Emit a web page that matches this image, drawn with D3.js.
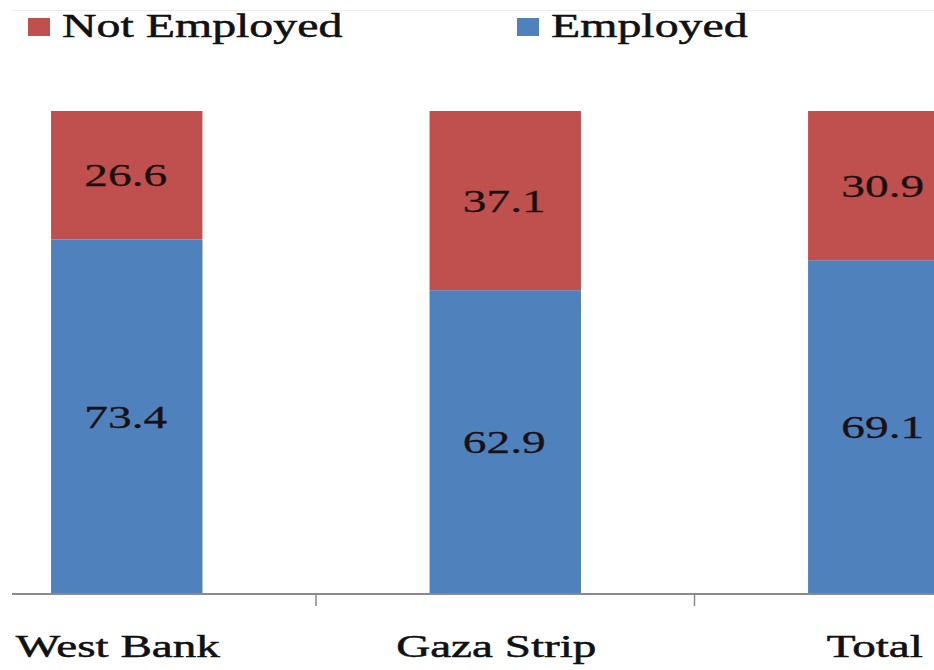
<!DOCTYPE html>
<html>
<head>
<meta charset="utf-8">
<script src="https://cdn.jsdelivr.net/npm/d3@7"></script>
<style>
  html, body { margin: 0; padding: 0; background: #fff; }
  svg { display: block; font-family: 'Liberation Serif', 'Times New Roman', serif; }
  .heavy { stroke: #111; stroke-width: 0.5px; }
</style>
</head>
<body>
<svg id="chart" width="934" height="670"></svg>
<script>
const categories = ['West Bank', 'Gaza Strip', 'Total']
const employed = [73.4, 62.9, 69.1]
const notEmployed = [26.6, 37.1, 30.9]
const seriesNames = ['Not Employed', 'Employed']
const seriesColors = ['#C0504D', '#4F81BD']

const svg = d3.select('#chart')
const stretch = 1.48

const x = d3.scaleBand()
  .domain(categories)
  .range([-62.5, 1073])
  .paddingInner(0.6)
  .paddingOuter(0.3)

const y = d3.scaleLinear()
  .domain([0, 100])
  .range([594, 111])

const rows = categories.map((c, i) => ({ cat: c, employed: employed[i], notEmployed: notEmployed[i] }))
const stack = d3.stack().keys(['employed', 'notEmployed'])(rows)

// faint top border
svg.append('line')
  .attr('x1', 12).attr('x2', 934)
  .attr('y1', 10.5).attr('y2', 10.5)
  .attr('stroke', '#ececec')

// bars
const layers = svg.append('g').selectAll('g')
  .data(stack)
  .join('g')
  .attr('fill', d => d.key === 'employed' ? seriesColors[1] : seriesColors[0])

layers.selectAll('rect')
  .data(d => d)
  .join('rect')
  .attr('x', d => x(d.data.cat))
  .attr('width', x.bandwidth())
  .attr('y', d => y(d[1]))
  .attr('height', d => y(d[0]) - y(d[1]))

// value labels
layers.selectAll('text')
  .data(d => d)
  .join('text')
  .attr('transform', d => `translate(${x(d.data.cat) + x.bandwidth() / 2 - 1},${(y(d[0]) + y(d[1])) / 2 + 11}) scale(${stretch},1)`)
  .attr('text-anchor', 'middle')
  .attr('font-size', 32)
  .attr('fill', '#1a1010')
  .attr('stroke', '#1a1010')
  .attr('stroke-width', 0.3)
  .text(d => (d[1] - d[0]).toFixed(1))

// axis
const axis = svg.append('g')
axis.append('line')
  .attr('x1', 12).attr('x2', 934)
  .attr('y1', 594).attr('y2', 594)
  .attr('stroke', '#8a8a8a')
  .attr('stroke-width', 2)

const boundaries = categories.slice(1).map(c => x(c) - x.step() * x.paddingInner() / 2)
axis.selectAll('.tick')
  .data(boundaries)
  .join('line')
  .attr('class', 'tick')
  .attr('x1', d => d).attr('x2', d => d)
  .attr('y1', 594).attr('y2', 606)
  .attr('stroke', '#8a8a8a')
  .attr('stroke-width', 1.5)

axis.selectAll('text')
  .data(categories)
  .join('text')
  .attr('class', 'heavy')
  .attr('transform', d => `translate(${x(d) + x.bandwidth() / 2 - 9},657) scale(1.52,1)`)
  .attr('text-anchor', 'middle')
  .attr('font-size', 31)
  .attr('fill', '#111')
  .text(d => d)

// legend
const legendX = [28, 517]
const legend = svg.append('g').selectAll('g')
  .data(seriesNames)
  .join('g')
  .attr('transform', (d, i) => `translate(${legendX[i]},0)`)

legend.append('rect')
  .attr('x', 0).attr('y', 18)
  .attr('width', 22).attr('height', 18)
  .attr('fill', (d, i) => seriesColors[i])

legend.append('text')
  .attr('class', 'heavy')
  .attr('transform', 'translate(34,37) scale(1.45,1)')
  .attr('font-size', 33)
  .attr('fill', '#111')
  .text(d => d)
</script>
</body>
</html>
